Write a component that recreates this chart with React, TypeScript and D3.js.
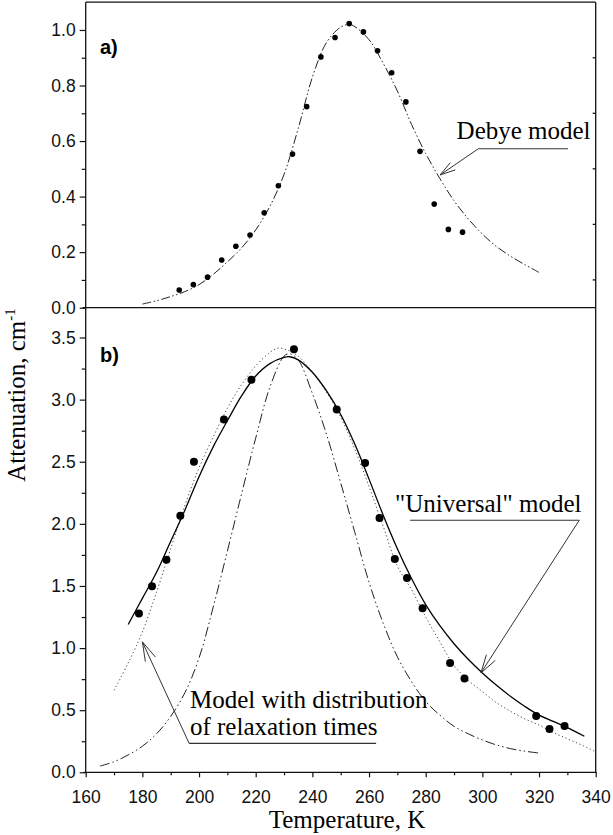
import React, { useEffect, useRef } from "react";
import * as d3 from "d3";

// panel a) measured points + Debye fit
const aTemps = [193, 198, 203, 208, 213, 218, 223, 228, 233, 238, 243, 248, 253, 258, 263, 268, 273, 278, 283, 288, 293];
const aAtten = [0.064, 0.083, 0.11, 0.172, 0.221, 0.262, 0.342, 0.439, 0.553, 0.724, 0.903, 0.973, 1.023, 0.993, 0.925, 0.846, 0.741, 0.563, 0.373, 0.282, 0.272];
const aDebyeT = [180, 185, 190, 195, 200, 205, 210, 215, 220, 225, 230, 235, 240, 245, 250, 253, 255, 260, 265, 270, 275, 280, 285, 290, 295, 300, 305, 310, 315, 320];
const aDebyeY = [0.013, 0.025, 0.04, 0.058, 0.083, 0.12, 0.165, 0.215, 0.28, 0.365, 0.48, 0.645, 0.83, 0.955, 1.01, 1.02, 1.012, 0.965, 0.88, 0.78, 0.66, 0.555, 0.465, 0.385, 0.32, 0.265, 0.22, 0.185, 0.155, 0.127];

// panel b) measured points + three models
const bTemps = [178.8, 183.4, 188.5, 193.4, 198.2, 208.8, 218.5, 233.5, 248.6, 258.6, 263.7, 269.1, 273.4, 278.9, 288.6, 293.7, 319.0, 323.7, 329.0];
const bAtten = [1.278, 1.498, 1.712, 2.066, 2.5, 2.84, 3.16, 3.405, 2.92, 2.49, 2.047, 1.717, 1.564, 1.32, 0.879, 0.756, 0.453, 0.348, 0.372];
const bUniversalT = [175, 180, 185, 190, 195, 200, 205, 210, 215, 220, 225, 230, 232, 235, 240, 245, 250, 255, 260, 265, 270, 275, 280, 285, 290, 295, 300, 305, 310, 315, 320, 325, 330, 336];
const bUniversalY = [1.19, 1.4, 1.61, 1.86, 2.11, 2.38, 2.62, 2.83, 3.03, 3.19, 3.29, 3.34, 3.345, 3.32, 3.22, 3.07, 2.88, 2.64, 2.36, 2.07, 1.8, 1.56, 1.35, 1.18, 1.035, 0.91, 0.8, 0.7, 0.61, 0.53, 0.46, 0.41, 0.36, 0.29];
const bDistT = [170, 175, 180, 185, 190, 195, 200, 205, 210, 215, 220, 225, 228, 231, 235, 240, 245, 250, 255, 260, 265, 270, 275, 280, 285, 290, 295, 300, 305, 310, 315, 320, 325, 330, 335, 340];
const bDistY = [0.66, 0.88, 1.13, 1.45, 1.8, 2.15, 2.45, 2.7, 2.93, 3.12, 3.27, 3.38, 3.415, 3.4, 3.35, 3.22, 3.06, 2.86, 2.6, 2.3, 1.98, 1.66, 1.47, 1.25, 1.05, 0.86, 0.74, 0.65, 0.56, 0.49, 0.43, 0.38, 0.32, 0.27, 0.22, 0.165];
const bDebyeT = [165, 170, 175, 180, 185, 190, 195, 200, 205, 210, 215, 220, 225, 230, 232, 235, 240, 245, 250, 255, 260, 265, 270, 275, 280, 285, 290, 295, 300, 305, 310, 315, 320];
const bDebyeY = [0.05, 0.085, 0.14, 0.21, 0.31, 0.45, 0.64, 0.92, 1.33, 1.78, 2.24, 2.69, 3.1, 3.35, 3.37, 3.32, 3.05, 2.72, 2.33, 1.93, 1.53, 1.2, 0.93, 0.73, 0.57, 0.46, 0.37, 0.31, 0.26, 0.22, 0.19, 0.17, 0.155];

// ticks
const xTicks = [160, 180, 200, 220, 240, 260, 280, 300, 320, 340];
const xMinor = [170, 190, 210, 230, 250, 270, 290, 310, 330];
const aTicks = [0, 0.2, 0.4, 0.6, 0.8, 1.0];
const aMinor = [0.1, 0.3, 0.5, 0.7, 0.9];
const bTicks = [0, 0.5, 1.0, 1.5, 2.0, 2.5, 3.0, 3.5];
const bMinor = [0.25, 0.75, 1.25, 1.75, 2.25, 2.75, 3.25];

const W = 613;
const H = 835;
const SANS = "'Liberation Sans', Arial, Helvetica, sans-serif";
const SERIF = "'Liberation Serif', 'Times New Roman', serif";

const App = () => {
  const ref = useRef<SVGSVGElement>(null);

  useEffect(() => {
    const svg = d3.select(ref.current);
    svg.selectAll("*").remove();

    const left = 85.7;
    const right = 595.7;
    const top = 2.2;
    const mid = 307.7;
    const bottom = 772.3;

    const x = d3.scaleLinear().domain([160, 340]).range([left, right]);
    const yA = d3.scaleLinear().domain([0, 1.1]).range([mid, top]);
    const yB = d3.scaleLinear().domain([0, 3.74]).range([bottom, mid]);

    const ink = "#111";

    // frame
    const frame = svg.append("g").attr("stroke", ink).attr("stroke-width", 1.3).attr("fill", "none");
    frame.append("line").attr("x1", left).attr("x2", left).attr("y1", top).attr("y2", bottom);
    frame.append("line").attr("x1", left).attr("x2", right).attr("y1", top).attr("y2", top);
    frame.append("line").attr("x1", right).attr("x2", right).attr("y1", top).attr("y2", bottom);
    frame.append("line").attr("x1", left - 3).attr("x2", right).attr("y1", mid).attr("y2", mid);
    frame.append("line").attr("x1", left - 2).attr("x2", right + 1).attr("y1", bottom).attr("y2", bottom);

    // inner ticks on the right edge of panel a
    frame.selectAll("line.rt")
      .data(aMinor)
      .join("line")
      .attr("class", "rt")
      .attr("x1", right - 3)
      .attr("x2", right)
      .attr("y1", (d) => yA(d))
      .attr("y2", (d) => yA(d));

    const styleAxis = (g) => {
      g.select(".domain").remove();
      g.selectAll("line").attr("stroke", ink).attr("stroke-width", 1.2);
      g.selectAll("text").attr("fill", ink).style("font-family", SANS).style("font-size", "17.5px");
    };

    // y axes
    const yAxes = [
      [yA, aTicks, aMinor],
      [yB, bTicks, bMinor],
    ];
    yAxes.forEach(([scale, major, minor]) => {
      svg.append("g")
        .attr("transform", `translate(${left},0)`)
        .call(d3.axisLeft(scale).tickValues(minor).tickSize(4).tickFormat(() => ""))
        .call(styleAxis);
      svg.append("g")
        .attr("transform", `translate(${left},0)`)
        .call(d3.axisLeft(scale).tickValues(major).tickSize(6).tickPadding(4).tickFormat(d3.format(".1f")))
        .call(styleAxis);
    });

    // x axis
    svg.append("g")
      .attr("transform", `translate(0,${bottom})`)
      .call(d3.axisBottom(x).tickValues(xMinor).tickSize(3).tickFormat(() => ""))
      .call(styleAxis);
    svg.append("g")
      .attr("transform", `translate(0,${bottom})`)
      .call(d3.axisBottom(x).tickValues(xTicks).tickSize(5).tickPadding(13).tickFormat(d3.format("d")))
      .call(styleAxis);

    const line = (ys) =>
      d3.line()
        .x((d) => x(d[0]))
        .y((d) => ys(d[1]))
        .curve(d3.curveCatmullRom.alpha(0.5));

    const zip = (a, b) => a.map((v, i) => [v, b[i]]);
    const dashDotDot = "9,2.5,1.5,2.5,1.5,2.5";

    // panel a
    svg.append("path")
      .datum(zip(aDebyeT, aDebyeY))
      .attr("d", line(yA))
      .attr("fill", "none")
      .attr("stroke", "#222")
      .attr("stroke-width", 1)
      .attr("stroke-dasharray", dashDotDot);

    svg.append("g")
      .selectAll("circle")
      .data(zip(aTemps, aAtten))
      .join("circle")
      .attr("cx", (d) => x(d[0]))
      .attr("cy", (d) => yA(d[1]))
      .attr("r", 2.8)
      .attr("fill", "#000");

    // panel b
    svg.append("path")
      .datum(zip(bDebyeT, bDebyeY))
      .attr("d", line(yB))
      .attr("fill", "none")
      .attr("stroke", "#222")
      .attr("stroke-width", 1)
      .attr("stroke-dasharray", "10,3,1.5,3,1.5,3");

    svg.append("path")
      .datum(zip(bDistT, bDistY))
      .attr("d", line(yB))
      .attr("fill", "none")
      .attr("stroke", "#444")
      .attr("stroke-width", 1)
      .attr("stroke-dasharray", "1.2,2.6");

    svg.append("path")
      .datum(zip(bUniversalT, bUniversalY))
      .attr("d", line(yB))
      .attr("fill", "none")
      .attr("stroke", "#000")
      .attr("stroke-width", 1.3);

    svg.append("g")
      .selectAll("circle")
      .data(zip(bTemps, bAtten))
      .join("circle")
      .attr("cx", (d) => x(d[0]))
      .attr("cy", (d) => yB(d[1]))
      .attr("r", 4)
      .attr("fill", "#000");

    // annotations: text, underline and an open arrow to the curve
    const annotate = (lines, tx, ty, lineGap, ux1, ux2, uy, tip) => {
      const g = svg.append("g");
      lines.forEach((t, i) => {
        g.append("text")
          .attr("x", tx)
          .attr("y", ty + i * lineGap)
          .style("font-family", SERIF)
          .style("font-size", "25px")
          .attr("fill", "#000")
          .text(t);
      });
      g.append("line")
        .attr("x1", ux1).attr("x2", ux2).attr("y1", uy).attr("y2", uy)
        .attr("stroke", "#333").attr("stroke-width", 1.1);
      const tail = tip.from;
      g.append("line")
        .attr("x1", tail[0]).attr("y1", tail[1]).attr("x2", tip.x).attr("y2", tip.y)
        .attr("stroke", "#333").attr("stroke-width", 1);
      const ang = Math.atan2(tail[1] - tip.y, tail[0] - tip.x);
      const len = tip.len;
      [-0.28, 0.28].forEach((da) => {
        g.append("line")
          .attr("x1", tip.x)
          .attr("y1", tip.y)
          .attr("x2", tip.x + len * Math.cos(ang + da))
          .attr("y2", tip.y + len * Math.sin(ang + da))
          .attr("stroke", "#333")
          .attr("stroke-width", 1);
      });
    };

    annotate(["Debye model"], x(290.9), yA(0.607), 0,
      x(298.6), x(330.2), yA(0.5725),
      { x: x(285.1), y: yA(0.478), from: [x(298.6), yA(0.5725)], len: 16 });

    annotate(["\"Universal\" model"], x(269.2), yB(2.093), 0,
      x(274.5), x(334.2), yB(2.029),
      { x: x(299.5), y: yB(0.8), from: [x(334.2), yB(2.029)], len: 19 });

    annotate(["Model with distribution", "of relaxation times"], x(196.8), yB(0.517), 27,
      x(196.5), x(262.5), yB(0.233),
      { x: x(180), y: yB(1.05), from: [x(196.5), yB(0.233)], len: 20 });

    // panel letters
    [["a)", yA(0.915)], ["b)", yB(3.3)]].forEach(([t, yy]) => {
      svg.append("text")
        .attr("x", 100)
        .attr("y", yy)
        .style("font-family", SANS)
        .style("font-weight", "bold")
        .style("font-size", "20px")
        .attr("fill", "#000")
        .text(t);
    });

    // axis titles
    svg.append("text")
      .attr("x", 347)
      .attr("y", 828)
      .attr("text-anchor", "middle")
      .style("font-family", SERIF)
      .style("font-size", "25px")
      .attr("fill", "#000")
      .text("Temperature, K");

    const yt = svg.append("text")
      .attr("transform", "translate(25,395) rotate(-90)")
      .attr("text-anchor", "middle")
      .style("font-family", SERIF)
      .style("font-size", "25px")
      .attr("fill", "#000");
    yt.append("tspan").text("Attenuation, cm");
    yt.append("tspan").attr("dy", -10).style("font-size", "15px").text("-1");
  }, []);

  return (
    <svg
      ref={ref}
      width={W}
      height={H}
      style={{ position: "absolute", left: 0, top: 0, background: "#fff", display: "block" }}
    />
  );
};

export default App;
